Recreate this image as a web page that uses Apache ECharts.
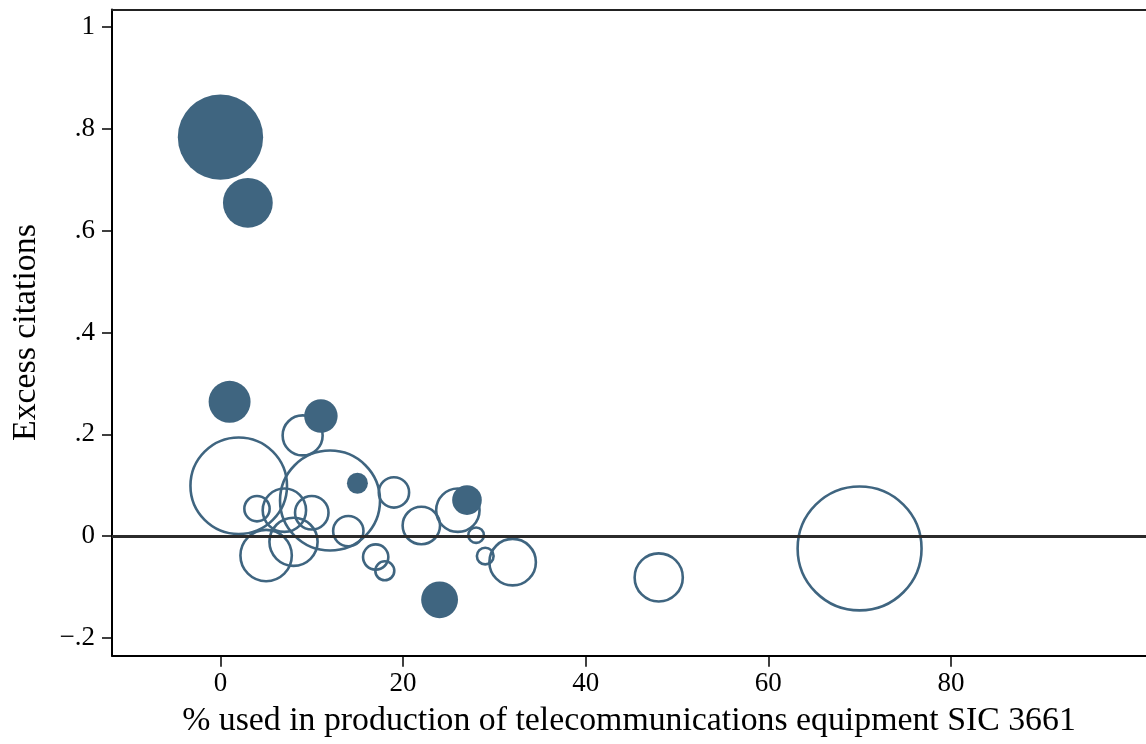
<!DOCTYPE html>
<html>
<head>
<meta charset="utf-8">
<script src="https://cdn.jsdelivr.net/npm/echarts@6/dist/echarts.min.js"></script>
<style>
html,body{margin:0;padding:0;background:#fff;overflow:hidden;}
#chart{width:1146px;height:744px;}
</style>
</head>
<body>
<div id="chart"></div>
<script>
// Filled (solid) bubbles
var filledX = [0, 3, 1, 11, 15, 27, 24];
var filledY = [0.784, 0.655, 0.264, 0.236, 0.104, 0.071, -0.125];
var filledW = [182, 62, 44, 28, 11, 22, 34];
// Hollow bubbles
var hollowX = [9, 2, 12, 4, 7, 10, 5, 8, 14, 19, 17, 18, 22, 26, 28, 29, 32, 48, 70];
var hollowY = [0.198, 0.099, 0.070, 0.054, 0.051, 0.046, -0.038, -0.011, 0.010, 0.086, -0.041, -0.068, 0.021, 0.051, 0.002, -0.039, -0.051, -0.081, -0.024];
var hollowW = [40, 233, 250, 16, 47, 28, 66, 58, 23, 23, 16, 9, 35, 47, 6, 7, 54, 58, 384];
// Axis ticks
var xTicks = [0, 20, 40, 60, 80];
var xTickLabels = ['0', '20', '40', '60', '80'];
var yTicks = [-0.2, 0, 0.2, 0.4, 0.6, 0.8, 1];
var yTickLabels = ['\u2212.2', '0', '.2', '.4', '.6', '.8', '1'];

var FONT = 'Liberation Serif';
var COLOR = '#3f6580';
function sizeOf(w) { return 2 * Math.sqrt(w * 10); }
function pts(xs, ys, ws) { return xs.map(function (x, i) { return [x, ys[i], ws[i]]; }); }

var chart = echarts.init(document.getElementById('chart'), null, { renderer: 'canvas' });
chart.setOption({
  animation: false,
  backgroundColor: '#fff',
  grid: { left: 112, top: 9.5, right: 0, bottom: 88.3, containLabel: false, outerBoundsMode: 'none' },
  xAxis: [{
    type: 'value', min: -11.88, max: 101.37,
    name: '% used in production of telecommunications equipment SIC 3661',
    nameLocation: 'middle', nameGap: 48,
    nameTextStyle: { fontFamily: FONT, fontSize: 33.8, color: '#000' },
    axisLine: { show: true, onZero: false, lineStyle: { color: '#000', width: 2 } },
    axisTick: { show: true, length: 11, customValues: xTicks, lineStyle: { color: '#000', width: 1.5 } },
    axisLabel: {
      customValues: xTicks, margin: 15, fontFamily: FONT, fontSize: 27, color: '#000',
      formatter: function (v) { return xTickLabels[xTicks.indexOf(v)]; }
    },
    splitLine: { show: false }
  }, {
    type: 'value', position: 'top', min: -11.88, max: 101.37,
    axisLine: { show: true, onZero: false, lineStyle: { color: '#222', width: 2 } },
    axisTick: { show: false }, axisLabel: { show: false }, splitLine: { show: false }
  }],
  yAxis: {
    type: 'value', min: -0.2348, max: 1.0348,
    name: 'Excess citations', nameLocation: 'middle', nameGap: 69, nameRotate: 90,
    nameTextStyle: { fontFamily: FONT, fontSize: 33.8, color: '#000' },
    axisLine: { show: true, onZero: false, lineStyle: { color: '#000', width: 2 } },
    axisTick: { show: true, length: 10, customValues: yTicks, lineStyle: { color: '#000', width: 1.5 } },
    axisLabel: {
      customValues: yTicks, margin: 17, fontFamily: FONT, fontSize: 27, color: '#000',
      formatter: function (v) {
        for (var i = 0; i < yTicks.length; i++) { if (Math.abs(yTicks[i] - v) < 1e-9) return yTickLabels[i]; }
        return '';
      }
    },
    splitLine: { show: false }
  },
  series: [{
    type: 'scatter', name: 'hollow', data: pts(hollowX, hollowY, hollowW),
    symbol: 'circle', symbolSize: function (d) { return sizeOf(d[2]); },
    itemStyle: { color: 'rgba(0,0,0,0)', borderColor: COLOR, borderWidth: 2.6, opacity: 1 },
    emphasis: { disabled: true }, z: 2,
    markLine: {
      silent: true, symbol: ['none', 'none'], label: { show: false },
      lineStyle: { color: '#2b2b2b', width: 3, type: 'solid' },
      data: [{ yAxis: 0 }], z: 5
    }
  }, {
    type: 'scatter', name: 'filled', data: pts(filledX, filledY, filledW),
    symbol: 'circle', symbolSize: function (d) { return sizeOf(d[2]); },
    itemStyle: { color: COLOR, opacity: 1 },
    emphasis: { disabled: true }, z: 3
  }]
});
</script>
</body>
</html>
